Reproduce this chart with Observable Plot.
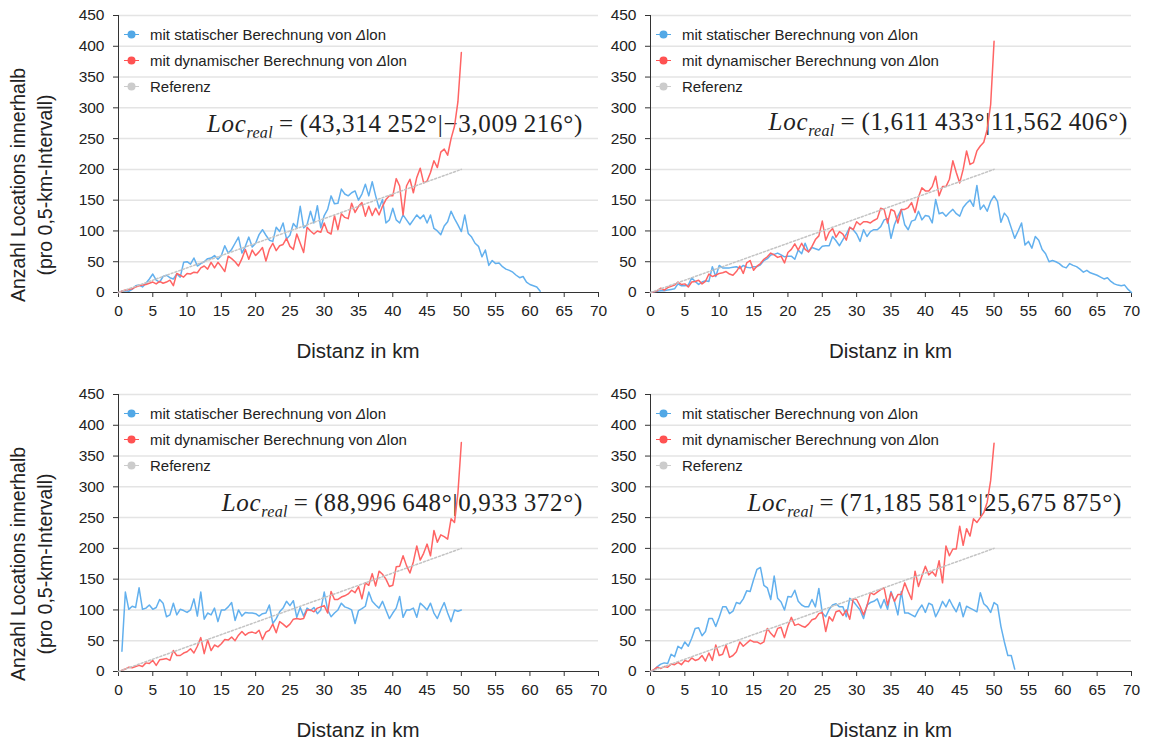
<!DOCTYPE html>
<html><head><meta charset="utf-8">
<script src="https://cdn.jsdelivr.net/npm/d3@7"></script>
<script src="https://cdn.jsdelivr.net/npm/@observablehq/plot@0.6"></script>
<style>
html,body{margin:0;padding:0;background:#fff;}
body{width:1151px;height:743px;position:relative;overflow:hidden;font-family:"Liberation Sans",Arial,sans-serif;color:#222;}
.panel{position:absolute;z-index:2;}
.ylab{position:absolute;white-space:nowrap;font-size:19.5px;transform:translate(-50%,-50%) rotate(-90deg);}
.xlab{position:absolute;white-space:nowrap;font-size:20.5px;transform:translate(-50%,-50%);}
.ann{position:absolute;z-index:1;white-space:nowrap;font-family:"Liberation Serif","DejaVu Serif",serif;font-size:25px;letter-spacing:0.7px;line-height:1;transform:translateY(-50%);}
.ann sub{font-size:16px;vertical-align:-6px;line-height:0;letter-spacing:0.3px;}
.ann .eq{margin:0 6px;}
.leg{position:absolute;z-index:3;font-size:15px;white-space:nowrap;}
.leg div{position:absolute;left:0;transform:translateY(-50%);display:flex;align-items:center;}
.leg svg{display:block;margin-right:11px;}
</style>
</head><body>
<div id="root"></div>
<script>
// ---------- data ----------
const xTicks = [0,5,10,15,20,25,30,35,40,45,50,55,60,65,70];
const yTicks = [0,50,100,150,200,250,300,350,400,450];
const seriesNames = ["mit statischer Berechnung von ", "mit dynamischer Berechnung von ", "Referenz"];
const refX = [0, 50];
const refY = [0, 200];

// Panel 1: Loc_real = (43,314 252° | -3,009 216°)  (values every 0.5 km)
const p1StaticStart = 0;
const p1Static = [0,2,3,2,5,11,12,9,15,22, 30,20,17,26,28,24,22,30,25,49, 50,46,56,43,47,50,55,56,60,54,
 60,76,64,70,80,90,64,75,90,74, 80,94,102,93,85,83,106,99,113,87, 93,112,105,140,105,110,132,113,141,105,
 125,135,157,144,145,168,160,157,162,165, 150,160,176,157,180,157,137,151,113,118, 137,118,113,126,118,110,118,126,120,126,
 113,126,104,100,94,108,115,132,120,110, 99,126,96,90,80,75,58,69,44,52, 47,48,42,38,36,33,28,24,26,17, 13,11,9,2];
const p1DynamicStart = 0;
const p1Dynamic = [0,2,4,5,6,9,11,12,13,15, 17,14,18,15,17,20,11,31,28,25, 31,30,33,32,40,43,38,49,40,49,
 42,34,59,55,50,43,55,70,54,69, 60,66,73,51,70,80,68,76,78,88, 75,70,95,80,65,106,100,95,100,98,
 113,98,95,125,102,128,122,120,145,130, 140,146,124,140,125,137,126,140,151,157, 157,185,173,126,173,184,162,187,202,178,
 181,195,214,203,228,233,223,250,270,310, 390];

// Panel 2: Loc_real = (1,611 433° | 11,562 406°)
const p2StaticStart = 0;
const p2Static = [0,1,2,3,3,4,5,6,14,11, 11,12,24,18,13,17,19,18,42,26, 44,40,40,40,41,42,39,44,41,40,
 42,42,45,52,55,61,62,64,61,58, 59,59,54,69,63,80,66,73,71,69, 75,76,76,91,84,76,86,95,106,102,
 95,83,102,91,99,102,102,107,118,120, 88,110,124,135,110,102,116,118,132,118, 125,124,113,151,128,130,124,130,135,128,
 124,138,145,150,140,174,135,142,132,148, 157,148,114,129,122,105,88,100,113,77, 83,72,91,85,70,63,50,52,50,47,
 42,40,47,44,42,38,33,36,32,30, 28,25,22,24,18,14,12,11,12,5, 0];
const p2DynamicStart = 0;
const p2Dynamic = [0,1,3,7,4,8,10,12,17,13, 14,9,17,18,20,14,18,30,26,28, 31,32,34,30,28,34,43,31,48,52,
 36,43,47,54,58,64,61,57,59,48, 65,70,79,69,80,70,66,75,86,92, 116,85,98,104,90,99,95,85,106,102,
 115,110,115,115,113,117,120,137,135,113, 135,132,113,135,135,138,146,130,155,170, 165,165,172,189,157,172,172,184,214,195,
 178,200,230,208,211,230,238,244,265,305, 408];

// Panel 3: Loc_real = (88,996 648° | 0,933 372°)
const p3StaticStart = 0.5;
const p3Static = [33,129,101,106,104,136,101,103,108,101, 104,117,111,89,92,111,92,101,99,96, 100,118,90,129,85,95,92,103,81,100,
 100,105,112,83,100,90,96,95,95,94, 90,94,95,108,78,86,97,103,114,107, 115,88,104,90,103,99,104,94,100,129,
 100,89,95,100,111,105,103,100,78,99, 102,106,129,114,108,103,114,100,86,95, 103,122,88,100,100,103,88,111,106,100,
 111,95,86,100,112,95,81,100,98,100];
const p3DynamicStart = 0.5;
const p3Dynamic = [2,4,7,6,8,10,8,14,13,18, 10,19,20,21,18,34,26,26,30,32, 37,30,41,55,29,51,34,43,40,45,
 52,51,56,50,59,65,59,63,64,62, 67,52,64,67,77,63,81,77,72,77, 85,86,85,86,100,100,97,103,105,107,
 95,130,117,117,121,123,126,132,128,138, 118,144,140,159,139,163,158,150,138,140, 170,171,188,172,160,178,204,181,192,207,
 188,229,210,222,219,215,248,242,290,372];

// Panel 4: Loc_real = (71,185 581° | 25,675 875°)
const p4StaticStart = 0;
const p4Static = [0,2,8,12,14,13,28,24,41,37, 48,41,54,70,71,58,65,86,86,73, 88,105,105,94,98,112,110,118,131,130,
 149,166,169,140,136,117,155,119,113,100, 122,121,132,114,108,105,105,117,105,135, 95,89,101,108,110,105,105,89,119,114,
 107,100,86,108,112,114,118,103,117,101, 130,114,92,130,95,95,92,89,100,108, 96,111,108,89,100,114,105,117,106,97,
 112,89,106,103,100,97,128,110,105,96, 112,108,73,48,26,26,4];
const p4DynamicStart = 0;
const p4Dynamic = [0,3,7,5,8,7,12,11,15,11, 18,16,22,18,20,26,17,30,18,43, 26,28,43,23,26,32,48,41,46,51,
 48,48,45,48,70,62,56,70,72,55, 74,88,75,77,74,72,77,84,86,94, 96,65,89,82,97,99,91,100,85,118,
 117,106,92,106,128,125,129,133,136,108, 128,114,125,125,144,130,117,163,138,155, 171,157,162,155,180,144,204,188,199,199,
 236,205,232,220,248,242,250,258,275,310, 371];

const locTexts = [
  "(43,314\u2009252°|\u22123,009\u2009216°)",
  "(1,611\u2009433°|11,562\u2009406°)",
  "(88,996\u2009648°|0,933\u2009372°)",
  "(71,185\u2009581°|25,675\u2009875°)"
];

// ---------- styles ----------
const BLUE = "#62b0ee", RED = "#ff6464", GRAY = "#c4c4c4";
const BLUE_DOT = "#52a8e6", RED_DOT = "#ff5252", GRAY_DOT = "#cccccc";

function toRows(vals, start) { return vals.map((v, i) => ({x: start + i * 0.5, y: v})); }
const refRows = refX.map((x, i) => ({x, y: refY[i]}));

const root = document.getElementById("root");

const panels = [
  {left: 0,   top: 0,   w: 600, ml: 118, mr: 2,  st: p1Static, ss: p1StaticStart, dy: p1Dynamic, ds: p1DynamicStart, loc: locTexts[0], annRight: 583, annY: 123, ylab: true},
  {left: 600, top: 0,   w: 551, ml: 50,  mr: 20, st: p2Static, ss: p2StaticStart, dy: p2Dynamic, ds: p2DynamicStart, loc: locTexts[1], annRight: 1128, annY: 121, ylab: false},
  {left: 0,   top: 379, w: 600, ml: 118, mr: 2,  st: p3Static, ss: p3StaticStart, dy: p3Dynamic, ds: p3DynamicStart, loc: locTexts[2], annRight: 583, annY: 502, ylab: true},
  {left: 600, top: 379, w: 551, ml: 50,  mr: 20, st: p4Static, ss: p4StaticStart, dy: p4Dynamic, ds: p4DynamicStart, loc: locTexts[3], annRight: 1122, annY: 502, ylab: false}
];

const H = 380, MT = 15, MB = 88;

panels.forEach(p => {
  const chart = Plot.plot({
    width: p.w, height: H,
    marginTop: MT, marginBottom: MB, marginLeft: p.ml, marginRight: p.mr,
    style: {fontFamily: "'Liberation Sans', Arial, sans-serif", fontSize: "15.5px", color: "#222", background: "transparent", overflow: "visible"},
    x: {domain: [0, 70]},
    y: {domain: [0, 450]},
    marks: [
      Plot.gridY(yTicks.filter(t => t > 0), {stroke: "#e4e4e4", strokeOpacity: 1, strokeWidth: 1.5}),
      Plot.axisY(yTicks, {tickSize: 5, tickPadding: 9, label: null, stroke: "#333"}),
      Plot.axisX(xTicks, {tickSize: 5, tickPadding: 7, label: null, stroke: "#333"}),
      Plot.ruleX([0], {stroke: "#333", strokeWidth: 1}),
      Plot.ruleY([0], {stroke: "#333", strokeWidth: 1}),
      Plot.line(toRows(p.st, p.ss), {x: "x", y: "y", stroke: BLUE, strokeWidth: 1.5}),
      Plot.line(toRows(p.dy, p.ds), {x: "x", y: "y", stroke: RED, strokeWidth: 1.5}),
      Plot.line(refRows, {x: "x", y: "y", stroke: GRAY, strokeWidth: 1.5, strokeDasharray: "2,2"})
    ]
  });
  const wrap = document.createElement("div");
  wrap.className = "panel";
  wrap.style.left = p.left + "px";
  wrap.style.top = p.top + "px";
  wrap.appendChild(chart);
  root.appendChild(wrap);

  // x-axis title
  const plotL = p.left + p.ml, plotR = p.left + p.w - p.mr;
  const xl = document.createElement("div");
  xl.className = "xlab";
  xl.textContent = "Distanz in km";
  xl.style.left = ((plotL + plotR) / 2) + "px";
  xl.style.top = (p.top + 351) + "px";
  root.appendChild(xl);

  // y-axis title
  if (p.ylab) {
    const l1 = document.createElement("div");
    l1.className = "ylab"; l1.textContent = "Anzahl Locations innerhalb";
    l1.style.left = "18px"; l1.style.top = (p.top + 185) + "px";
    root.appendChild(l1);
    const l2 = document.createElement("div");
    l2.className = "ylab"; l2.textContent = "(pro 0,5-km-Intervall)";
    l2.style.left = "45px"; l2.style.top = (p.top + 185) + "px";
    root.appendChild(l2);
  }

  // legend
  const leg = document.createElement("div");
  leg.className = "leg";
  leg.style.left = (plotL + 6) + "px";
  leg.style.top = (p.top + 34) + "px";
  const cols = [BLUE_DOT, RED_DOT, GRAY_DOT];
  seriesNames.forEach((name, i) => {
    const row = document.createElement("div");
    row.style.top = (i * 26) + "px";
    row.innerHTML = `<svg width="15" height="10"><line x1="0" y1="5" x2="15" y2="5" stroke="${cols[i]}" stroke-width="1.2"/><circle cx="7.5" cy="5" r="4" fill="${cols[i]}"/></svg>` +
      `<span>${name}${i < 2 ? '<i>\u0394</i>lon' : ''}</span>`;
    leg.appendChild(row);
  });
  root.appendChild(leg);

  // annotation
  const ann = document.createElement("div");
  ann.className = "ann";
  ann.innerHTML = `<i>Loc</i><sub><i>real</i></sub><span class="eq">=</span>${p.loc}`;
  ann.style.right = (1151 - p.annRight) + "px";
  ann.style.top = p.annY + "px";
  root.appendChild(ann);
});
</script>
</body></html>
